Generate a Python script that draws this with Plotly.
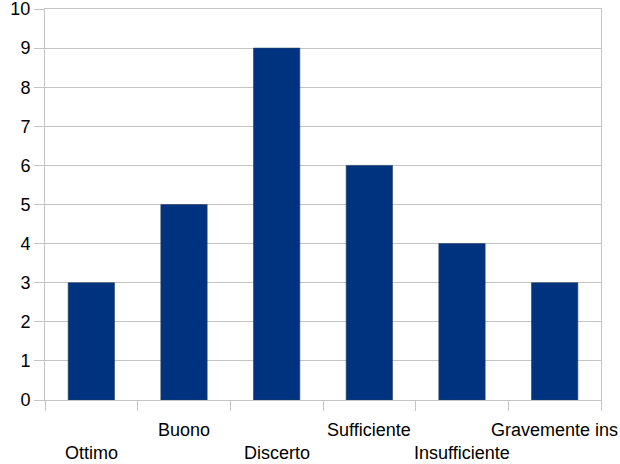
import plotly.graph_objects as go

categories = ["Ottimo", "Buono", "Discerto", "Sufficiente", "Insufficiente", "Gravemente ins"]
values = [3, 5, 9, 6, 4, 3]
y_ticks = list(range(0, 11))

bar_color = "#00337f"
grid_color = "#c4c4c4"
font_family = "Liberation Sans, Arial, sans-serif"

positions = list(range(len(categories)))

fig = go.Figure(
    go.Bar(
        x=positions,
        y=values,
        width=0.5,
        marker=dict(color=bar_color, line=dict(color="#2a3f5f", width=0.6)),
        hoverinfo="skip",
    )
)

# staggered category labels: even indices on the lower row, odd on the upper row
annotations = []
for i, name in enumerate(categories):
    lower = i % 2 == 0
    annotations.append(
        dict(
            x=i,
            xref="x",
            y=0,
            yref="paper",
            text=name,
            showarrow=False,
            xanchor="center",
            yanchor="middle",
            yshift=-53 if lower else -30,
            font=dict(family=font_family, size=18, color="#000000"),
        )
    )

fig.update_layout(
    width=620,
    height=464,
    margin=dict(l=45, r=19, t=9, b=64, autoexpand=False),
    paper_bgcolor="white",
    plot_bgcolor="white",
    showlegend=False,
    annotations=annotations,
    xaxis=dict(
        range=[-0.5, len(categories) - 0.5],
        tickvals=[p - 0.5 for p in positions] + [len(categories) - 0.5],
        showticklabels=False,
        ticks="outside",
        ticklen=10,
        tickcolor=grid_color,
        showgrid=False,
        showline=True,
        linecolor=grid_color,
        mirror=True,
        zeroline=False,
        automargin=False,
    ),
    yaxis=dict(
        range=[0, 10],
        tickvals=y_ticks,
        ticks="outside",
        ticklen=10,
        tickcolor=grid_color,
        tickfont=dict(family=font_family, size=18, color="#000000"),
        ticklabeloverflow="allow",
        showgrid=True,
        gridcolor=grid_color,
        showline=True,
        linecolor=grid_color,
        mirror=True,
        zeroline=False,
        automargin=False,
    ),
)

fig.write_html("out.html")
